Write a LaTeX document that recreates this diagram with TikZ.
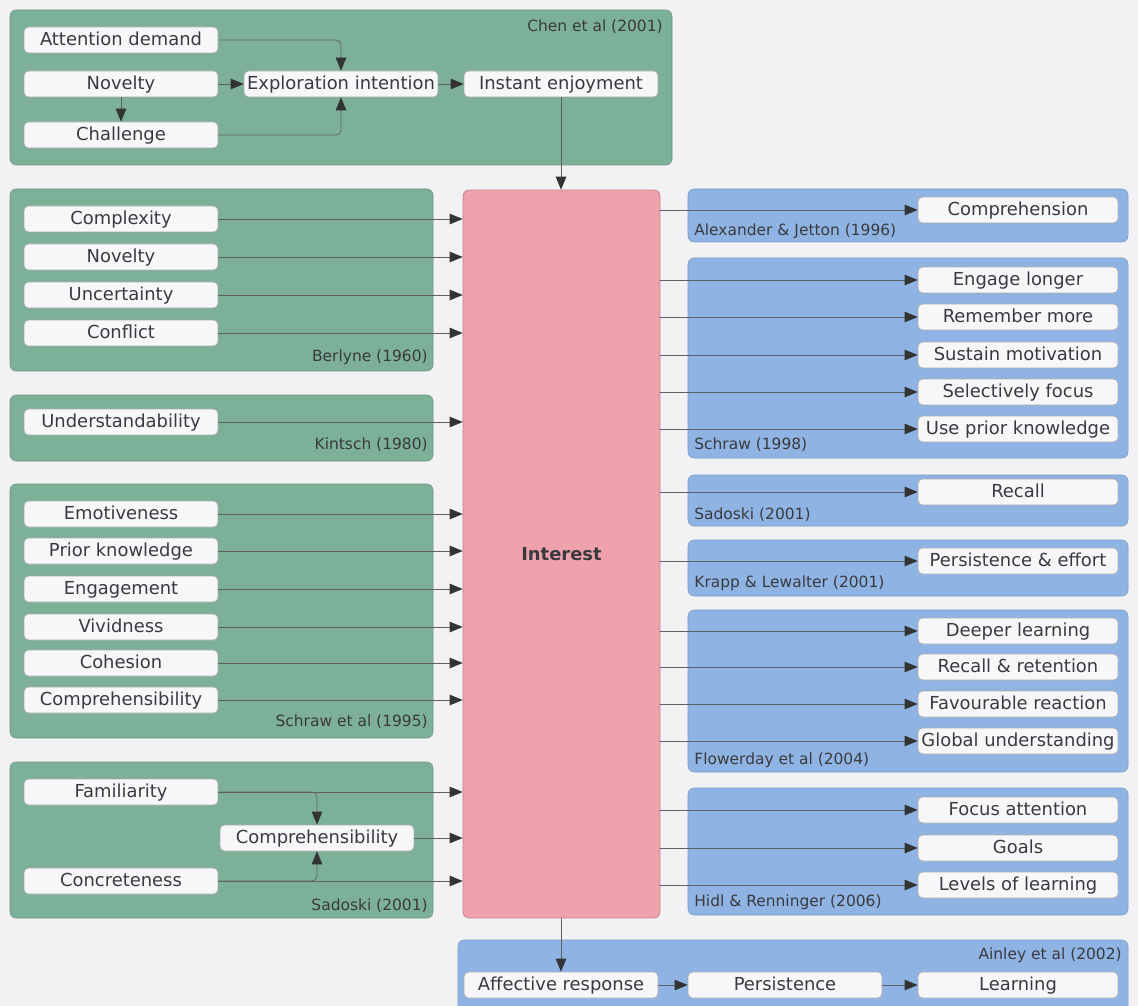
\documentclass[tikz,border=0pt]{standalone}
\usepackage{fontspec}
\setmainfont{DejaVu Sans}
\usetikzlibrary{arrows.meta}

\definecolor{bggray}{RGB}{242,241,243}
\definecolor{greenpanel}{RGB}{125,176,152}
\definecolor{bluepanel}{RGB}{143,180,228}
\definecolor{pinkcore}{RGB}{240,162,172}
\definecolor{boxfill}{RGB}{247,246,249}
\definecolor{inkgray}{RGB}{58,58,62}

\tikzset{
  panel/.style={draw=#1!85!black, fill=#1, rounded corners=1.2mm, line width=0.3pt},
  item/.style={draw=gray!65, fill=boxfill, rounded corners=0.9mm, minimum width=3.88cm,
    minimum height=0.52cm, inner sep=0pt, text height=0.72em, text depth=0.08em,
    font=\fontsize{10.2}{12}\selectfont, text=inkgray},
  wide item/.style={item, minimum width=4cm},
  source/.style={font=\fontsize{8.8}{10}\selectfont, text=inkgray, inner sep=0pt},
  link/.style={draw=inkgray!80, line width=0.4pt,
    -{Triangle[length=2.6mm,width=2.1mm,fill=black!80,color=black!80]}},
}

\begin{document}
\begin{tikzpicture}[x=0.02cm, y=-0.02cm]

\useasboundingbox (0,0) rectangle (1138,1006);
\clip (0,0) rectangle (1138,1006);
\fill[bggray] (0,0) rectangle (1138,1006);

% panels
\path[panel=greenpanel] (10,10) rectangle (672,165);
\path[panel=greenpanel] (10,189) rectangle (433,371);
\path[panel=greenpanel] (10,395) rectangle (433,461);
\path[panel=greenpanel] (10,484) rectangle (433,738);
\path[panel=greenpanel] (10,762) rectangle (433,918);
\path[panel=bluepanel] (688,189) rectangle (1128,242);
\path[panel=bluepanel] (688,258) rectangle (1128,458);
\path[panel=bluepanel] (688,475) rectangle (1128,526);
\path[panel=bluepanel] (688,540) rectangle (1128,596);
\path[panel=bluepanel] (688,610) rectangle (1128,772);
\path[panel=bluepanel] (688,788) rectangle (1128,915);
\path[panel=bluepanel] (458,940) rectangle (1128,1030);

\node[draw=pinkcore!80!black, fill=pinkcore, rounded corners=1.2mm, minimum width=3.94cm,
  minimum height=14.56cm, inner sep=0pt, font=\fontsize{10.2}{12}\selectfont\bfseries,
  text=inkgray] (interest) at (561.5,554) {Interest};

% sources
\node[source, anchor=east] (chen) at (663,27) {Chen et al (2001)};
\node[source, anchor=east] (berlyne) at (428,357) {Berlyne (1960)};
\node[source, anchor=east] (kintsch) at (428,445) {Kintsch (1980)};
\node[source, anchor=east] (schrawal) at (428,722) {Schraw et al (1995)};
\node[source, anchor=east] (sadleft) at (428,906) {Sadoski (2001)};
\node[source, anchor=west] (alex) at (694,231) {Alexander \& Jetton (1996)};
\node[source, anchor=west] (schraw) at (694,445) {Schraw (1998)};
\node[source, anchor=west] (sadright) at (694,515) {Sadoski (2001)};
\node[source, anchor=west] (krapp) at (694,583) {Krapp \& Lewalter (2001)};
\node[source, anchor=west] (flower) at (694,760) {Flowerday et al (2004)};
\node[source, anchor=west] (hidi) at (694,902) {Hidl \& Renninger (2006)};
\node[source, anchor=east] (ainley) at (1122,955) {Ainley et al (2002)};

% Chen et al
\node[item] (attn) at (121,40) {Attention demand};
\node[item] (novtop) at (121,84) {Novelty};
\node[item] (chal) at (121,135) {Challenge};
\node[item] (explore) at (341,84) {Exploration intention};
\node[item] (enjoy) at (561,84) {Instant enjoyment};
\draw[link, rounded corners=1mm] (attn.east) -| (explore.north);
\draw[link, rounded corners=1mm] (chal.east) -| (explore.south);
\draw[link] (novtop) -- (explore);
\draw[link] (novtop) -- (chal);
\draw[link] (explore) -- (enjoy);
\draw[link] (enjoy.south) -- (enjoy.south |- interest.north);

% left inputs
\foreach \y/\name/\txt in {219/cplx/Complexity, 257/novel/Novelty, 295/uncert/Uncertainty,
    333/confl/Conflict, 422/understand/Understandability, 514/emot/Emotiveness,
    551/prior/Prior knowledge, 589/engage/Engagement, 627/vivid/Vividness,
    663/cohes/Cohesion, 700/compr/Comprehensibility}
{
  \node[item] (\name) at (121,\y) {\txt};
  \draw[link] (\name.east) -- (\name -| interest.west);
}

% Sadoski
\node[item] (famil) at (121,792) {Familiarity};
\node[item] (comprsad) at (317,838) {Comprehensibility};
\node[item] (concr) at (121,881) {Concreteness};
\draw[link, rounded corners=1mm] (famil.east) -| (comprsad.north);
\draw[link, rounded corners=1mm] (concr.east) -| (comprsad.south);
\draw[link] (famil.east) -- (famil -| interest.west);
\draw[link] (comprsad.east) -- (comprsad -| interest.west);
\draw[link] (concr.east) -- (concr -| interest.west);

% right outcomes
\foreach \y/\name/\txt in {210/comprehend/Comprehension, 280/longer/Engage longer,
    317/remember/Remember more, 355/sustain/Sustain motivation, 392/focus/Selectively focus,
    429/useprior/Use prior knowledge, 492/recall/Recall, 561/effort/Persistence \& effort,
    631/deeper/Deeper learning, 667/retain/Recall \& retention, 704/favour/Favourable reaction,
    741/global/Global understanding, 810/attend/Focus attention, 848/goals/Goals,
    885/levels/Levels of learning}
{
  \node[wide item] (\name) at (1018,\y) {\txt};
  \draw[link] (interest.east |- \name) -- (\name.west);
}

% Ainley et al
\node[item] (affect) at (561,985) {Affective response};
\node[item] (persist) at (785,985) {Persistence};
\node[wide item] (learn) at (1018,985) {Learning};
\draw[link] (affect.north |- interest.south) -- (affect.north);
\draw[link] (affect) -- (persist);
\draw[link] (persist) -- (learn);

\end{tikzpicture}
\end{document}
